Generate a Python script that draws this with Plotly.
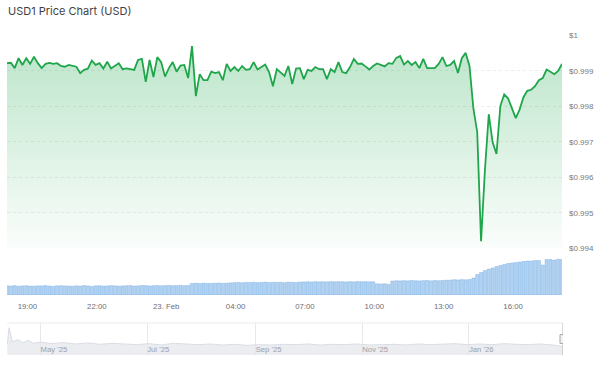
import plotly.graph_objects as go
import pandas as pd

# ---------------- data ----------------
price = [
    0.99922, 0.99923, 0.99908, 0.99936, 0.99917, 0.99936, 0.99920, 0.99940, 0.99922, 0.99908,
    0.99920, 0.99923, 0.99920, 0.99922, 0.99914, 0.99912, 0.99917, 0.99914, 0.99912, 0.99894,
    0.99903, 0.99907, 0.99929, 0.99917, 0.99922, 0.99907, 0.99926, 0.99907, 0.99914, 0.99922,
    0.99905, 0.99907, 0.99905, 0.99903, 0.99931, 0.99934, 0.99869, 0.99931, 0.99883, 0.99939,
    0.99925, 0.99884, 0.99908, 0.99925, 0.99898, 0.99915, 0.99917, 0.99880, 0.99970, 0.99829,
    0.99891, 0.99874, 0.99874, 0.99898, 0.99894, 0.99897, 0.99874, 0.99920, 0.99900, 0.99911,
    0.99900, 0.99914, 0.99903, 0.99905, 0.99925, 0.99904, 0.99911, 0.99918, 0.99897, 0.99857,
    0.99905, 0.99894, 0.99886, 0.99914, 0.99863, 0.99907, 0.99908, 0.99877, 0.99903, 0.99900,
    0.99911, 0.99905, 0.99905, 0.99877, 0.99905, 0.99897, 0.99925, 0.99897, 0.99894, 0.99911,
    0.99934, 0.99920, 0.99921, 0.99913, 0.99904, 0.99914, 0.99921, 0.99917, 0.99913, 0.99922,
    0.99920, 0.99937, 0.99942, 0.99918, 0.99928, 0.99917, 0.99925, 0.99908, 0.99934, 0.99908,
    0.99908, 0.99908, 0.99920, 0.99939, 0.99914, 0.99917, 0.99928, 0.99894, 0.99936, 0.99951,
    0.99914, 0.99795, 0.99728, 0.99420, 0.99620, 0.99778, 0.99699, 0.99666, 0.99801, 0.99834,
    0.99823, 0.99795, 0.99767, 0.99791, 0.99826, 0.99844, 0.99847, 0.99857, 0.99874, 0.99880,
    0.99904, 0.99898, 0.99891, 0.99900, 0.99920,
]

volume = [
    9.2, 9.0, 9.4, 8.8, 9.1, 9.3, 9.0, 8.9, 9.2, 9.1, 9.4, 9.0, 8.7, 9.2, 9.3, 9.1,
    9.0, 8.8, 9.2, 9.0, 9.5, 9.1, 8.6, 9.2, 9.3, 9.0, 9.1, 9.4, 9.2, 8.9, 9.1, 9.3,
    9.5, 9.0, 9.2, 9.6, 9.4, 9.1, 9.3, 9.5, 9.2, 9.4, 9.6, 9.3, 9.5, 9.7, 9.4, 9.6,
    11.6, 11.8, 11.5, 11.9, 11.7, 11.6, 11.8, 12.0, 11.7, 11.9, 12.1,
    12.4, 12.6, 12.3, 12.7, 12.5, 12.8, 12.4, 12.6, 12.9, 12.5, 12.7, 12.6, 12.8, 12.4,
    12.9, 12.7, 12.6, 13.0,
    13.1, 13.3, 13.0, 13.4, 13.2, 13.3, 13.1, 13.5, 13.2, 13.4, 13.3, 13.1, 13.4, 13.2,
    13.5, 13.3, 13.4, 13.2, 13.3,
    11.2, 11.0, 11.3, 10.6,
    14.0, 14.3, 14.1, 14.4, 14.2, 14.5, 14.3, 14.1, 14.4, 14.6, 14.2, 14.5, 14.3, 14.6,
    14.8, 15.0, 15.3, 15.1, 15.4, 15.2, 15.5,
    17.0, 20.5, 22.5, 24.5, 26.0, 27.0, 28.5, 29.5, 30.5, 31.5, 32.0, 32.5, 33.0, 33.5,
    34.0, 34.0, 34.5, 34.5, 30.0, 35.5, 35.5, 35.0, 35.8, 35.6,
]

nav_dates = [
    "2025-04-12", "2025-04-13", "2025-04-15", "2025-04-18", "2025-04-21", "2025-04-24",
    "2025-04-27", "2025-05-01", "2025-05-07", "2025-05-14", "2025-05-21", "2025-05-28",
    "2025-06-04", "2025-06-11", "2025-06-18", "2025-06-25", "2025-07-02", "2025-07-09",
    "2025-07-16", "2025-07-23", "2025-07-30", "2025-08-06", "2025-08-13", "2025-08-20",
    "2025-08-27", "2025-09-03", "2025-09-10", "2025-09-17", "2025-09-24", "2025-10-01",
    "2025-10-08", "2025-10-15", "2025-10-22", "2025-10-29", "2025-11-05", "2025-11-12",
    "2025-11-19", "2025-11-26", "2025-12-03", "2025-12-10", "2025-12-17", "2025-12-24",
    "2025-12-31", "2026-01-07", "2026-01-14", "2026-01-21", "2026-01-28", "2026-02-04",
    "2026-02-11", "2026-02-18", "2026-02-23 18:07",
]
nav_price = [
    0.99990, 1.00480, 1.00060, 1.00130, 1.00040, 1.00110,
    1.00020, 1.00060, 1.00010, 1.00040, 1.00000, 1.00030,
    0.99990, 1.00020, 1.00000, 0.99980, 1.00010, 0.99970,
    1.00020, 0.99990, 0.99980, 1.00000, 0.99970, 0.99990,
    0.99960, 0.99980, 0.99970, 0.99990, 0.99980, 1.00000,
    0.99970, 0.99990, 0.99980, 1.00000, 0.99970, 0.99980,
    0.99990, 0.99970, 1.00000, 0.99980, 0.99990, 1.00010,
    0.99980, 1.00000, 0.99980, 1.00010, 0.99990, 0.99980,
    1.00000, 0.99970, 0.99920,
]

y_ticks = [0.994, 0.995, 0.996, 0.997, 0.998, 0.999, 1.0]
y_tick_labels = ["$0.994", "$0.995", "$0.996", "$0.997", "$0.998", "$0.999", "$1"]
x_tick_times = ["2026-02-22 19:00", "2026-02-22 22:00", "2026-02-23 01:00", "2026-02-23 04:00",
                "2026-02-23 07:00", "2026-02-23 10:00", "2026-02-23 13:00", "2026-02-23 16:00"]
x_tick_labels = ["19:00", "22:00", "23. Feb", "04:00", "07:00", "10:00", "13:00", "16:00"]

times = pd.date_range("2026-02-22 18:07", periods=len(price), freq="10min")
nav_times = pd.to_datetime(nav_dates, format="ISO8601")

W, H = 600, 365
def py(px):
    return 1 - px / H

GREEN = "#1fa64b"
TITLE_FONT = "Inter"
TICK_FONT = "Liberation Sans"

fig = go.Figure()

# main price area
fig.add_trace(go.Scatter(
    x=times, y=price, mode="lines", xaxis="x", yaxis="y",
    line=dict(color=GREEN, width=1.8),
    fill="tozeroy",
    fillgradient=dict(type="vertical",
                      colorscale=[[0, "rgba(34,170,80,0.02)"], [1, "rgba(34,170,80,0.30)"]],
                      start=0.994, stop=0.9997),
    hoverinfo="skip",
))

# volume bars
fig.add_trace(go.Bar(
    x=times, y=volume, xaxis="x", yaxis="y2",
    marker=dict(color="rgba(150,196,238,0.75)",
                line=dict(color="rgba(95,155,222,0.55)", width=0.6)),
    hoverinfo="skip",
))

# navigator series
fig.add_trace(go.Scatter(
    x=nav_times, y=nav_price, mode="lines", xaxis="x2", yaxis="y3",
    line=dict(color="#dadee4", width=1),
    fill="tozeroy", fillcolor="rgba(226,230,235,0.7)",
    hoverinfo="skip",
))

fig.update_layout(
    width=W, height=H, autosize=False,
    margin=dict(l=0, r=0, t=0, b=0, pad=0, autoexpand=False),
    paper_bgcolor="white", plot_bgcolor="white",
    showlegend=False,
    bargap=0.18,
    font=dict(family=TICK_FONT, color="#777"),
    title=dict(text="USD1 Price Chart (USD)", x=8 / W, xanchor="left", xref="paper",
               y=py(11), yanchor="middle", yref="paper", automargin=False,
               font=dict(size=11, color="#3f3f46", family=TITLE_FONT)),
    xaxis=dict(
        domain=[7 / W, 562 / W], anchor="y2", automargin=False,
        range=[times[0], times[-1]],
        tickvals=pd.to_datetime(x_tick_times), ticktext=x_tick_labels,
        tickfont=dict(size=7.8, color="#6e6e76", family=TICK_FONT),
        showgrid=False, zeroline=False, showline=False, ticks="",
        ticklabelstandoff=5,
    ),
    yaxis=dict(
        domain=[py(248.3), py(35.5)], anchor="x", side="right", automargin=False,
        range=[0.994, 1.0],
        tickvals=y_ticks, ticktext=y_tick_labels,
        tickfont=dict(size=8, color="#7a7a82", family=TICK_FONT),
        showgrid=True, gridcolor="#ececec", griddash="dot", gridwidth=1,
        zeroline=False, showline=False, ticks="",
        ticklabelstandoff=6,
    ),
    yaxis2=dict(
        domain=[py(295), py(255)], anchor="x", automargin=False,
        range=[0, 40], visible=False,
    ),
    xaxis2=dict(
        domain=[7 / W, 563 / W], anchor="y3", automargin=False,
        range=[pd.Timestamp("2025-04-11 20:00"), times[-1]],
        tick0="2025-05-01", dtick="M2", tickformat="%b '%y",
        ticklabelposition="inside right", ticklabelstandoff=-5,
        tickfont=dict(size=7.7, color="#a0a0a8", family=TICK_FONT),
        showgrid=True, gridcolor="#e8e8e8", zeroline=False, showline=False, ticks="",
    ),
    yaxis3=dict(
        domain=[py(355), py(323)], anchor="x2", automargin=False,
        range=[0.99676, 1.00618], visible=False,
    ),
    shapes=[
        dict(type="line", xref="paper", yref="paper", x0=7 / W, x1=563 / W,
             y0=py(323), y1=py(323), line=dict(color="#ebebeb", width=1)),
        dict(type="line", xref="x2", yref="y3 domain", x0=times[-1], x1=times[-1],
             y0=0, y1=1, line=dict(color="#b5b5b5", width=1)),
        dict(type="rect", xref="x2", xsizemode="pixel", xanchor=times[-1], x0=-3, x1=3,
             yref="y3 domain", y0=0.36, y1=0.64,
             fillcolor="#f2f2f2", line=dict(color="#a8a8a8", width=1)),
    ],
)

fig.write_html("out.html")
